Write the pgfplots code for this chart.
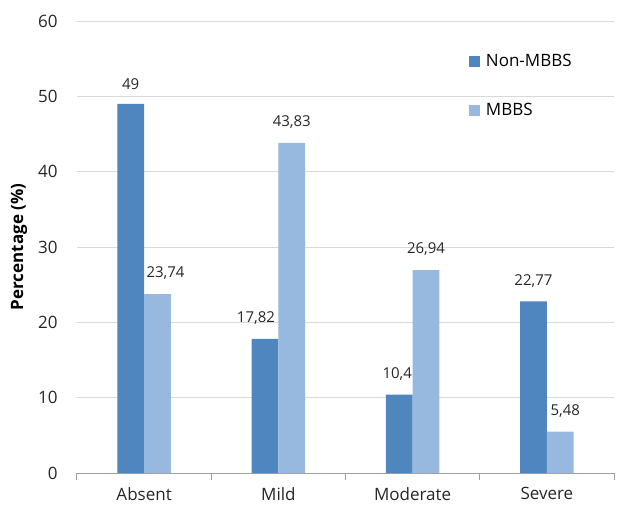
\documentclass[border=0pt]{standalone}
\usepackage{pgfplots}
\pgfplotsset{compat=1.18}
\usepackage{fontspec}
\setmainfont{Open Sans}
\definecolor{darkb}{HTML}{4F86BD}
\definecolor{lightb}{HTML}{97B8DF}
\definecolor{gridc}{HTML}{D9D9D9}
\definecolor{axisc}{HTML}{A0A0A0}
\begin{document}
\begin{tikzpicture}
\pgfplotstableread{
x nonmbbs dxa mbbs dxb
0 49    0  23.74 8
1 17.82 -9 43.83 0
2 10.4  -2 26.94 0
3 22.77 0  5.48  5
}\datatab
\begin{axis}[
  scale only axis,
  width=537bp, height=452bp,
  ybar=0pt, bar width=0.2,
  xmin=-0.5, xmax=3.5, ymin=0, ymax=60,
  ytick={0,10,...,60},
  xtick={0,1,2,3},
  xticklabels={Absent,Mild,Moderate,Severe},
  minor xtick={-0.5,0.5,1.5,2.5,3.5},
  tick align=outside,
  major tick length=0pt,
  minor tick length=7bp,
  every minor x tick/.append style={axisc, line width=1bp},
  axis lines*=left,
  y axis line style={draw=none},
  x axis line style={axisc, line width=1bp},
  ymajorgrids,
  grid style={gridc, line width=1bp},
  /pgf/number format/assume math mode=true,
  /pgf/number format/use comma,
  ticklabel style={font=\fontsize{17bp}{20bp}\selectfont, text=black!85},
  yticklabel style={xshift=-16bp},
  xticklabel style={yshift=-13bp, inner sep=1bp},
  ylabel={Percentage (\%)},
  ylabel style={font=\bfseries\fontsize{17bp}{20bp}\selectfont, at={(axis description cs:-0.108,0.5)}, anchor=center},
  nodes near coords,
  every node near coord/.append style={font=\fontsize{15bp}{18bp}\selectfont, text=black!85, yshift=11bp, xshift=\dx bp},
  legend style={draw=none, fill=none, at={(rel axis cs:0.7295,0.931)}, anchor=north west,
    font=\fontsize{17bp}{20bp}\selectfont, row sep=31.5bp, column sep=4bp, inner sep=0pt},
  legend cell align=left,
  legend image code/.code={\fill[#1] (0bp,-5.5bp) rectangle (11bp,5.5bp);},
]
\addplot[fill=darkb, draw=none, visualization depends on={\thisrow{dxa} \as \dx}] table[x=x, y=nonmbbs] {\datatab};
\addplot[fill=lightb, draw=none, visualization depends on={\thisrow{dxb} \as \dx}] table[x=x, y=mbbs] {\datatab};
\legend{Non-MBBS, MBBS}
\end{axis}
\pgfresetboundingbox
\path ([shift={(-77bp,-35bp)}]current axis.south west) rectangle ++(626bp,508bp);
\end{tikzpicture}
\end{document}
